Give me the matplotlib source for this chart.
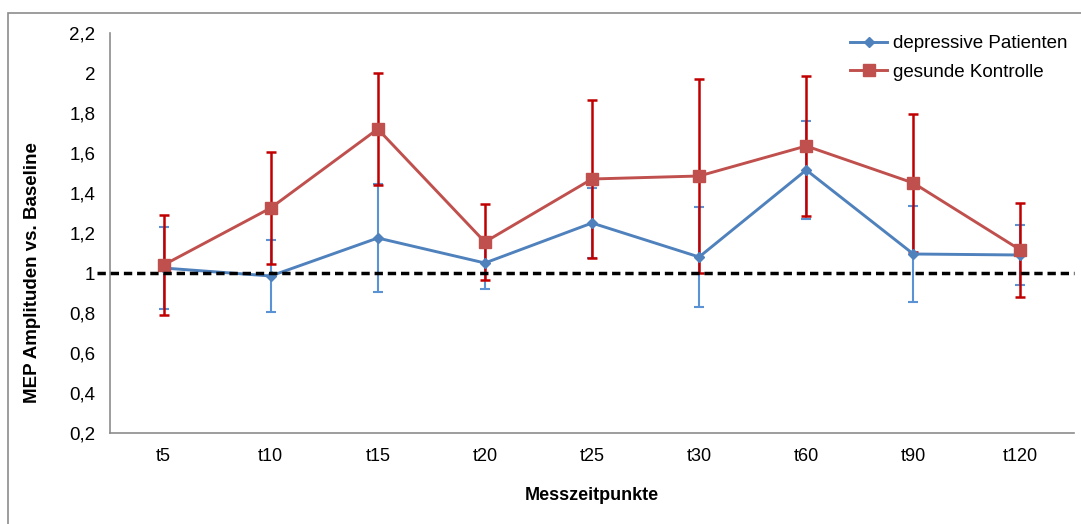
import matplotlib
matplotlib.use("Agg")
import matplotlib.pyplot as plt
from matplotlib.patches import Rectangle

# data
zeitpunkte = ["t5", "t10", "t15", "t20", "t25", "t30", "t60", "t90", "t120"]
depressiv = [1.025, 0.985, 1.175, 1.05, 1.25, 1.08, 1.515, 1.095, 1.09]
depressiv_err = [0.205, 0.18, 0.27, 0.13, 0.175, 0.25, 0.245, 0.24, 0.15]
gesund = [1.04, 1.325, 1.72, 1.155, 1.47, 1.485, 1.635, 1.45, 1.115]
gesund_err = [0.25, 0.28, 0.28, 0.19, 0.395, 0.485, 0.35, 0.345, 0.235]
y_ticks = [0.2, 0.4, 0.6, 0.8, 1.0, 1.2, 1.4, 1.6, 1.8, 2.0, 2.2]

plt.rcParams['font.family'] = ['Liberation Sans', 'DejaVu Sans']

W, H = 1081, 524
fig = plt.figure(figsize=(W / 100, H / 100), dpi=100)
ax = fig.add_axes([110 / W, 1 - 433 / H, (1074 - 110) / W, 400 / H])

x = list(range(len(zeitpunkte)))

# error bars first, lines on top
ax.errorbar(x, depressiv, yerr=depressiv_err, fmt='none', ecolor='#5B92D3',
            elinewidth=1.5, capsize=3.5, capthick=1.5, zorder=2)
ax.errorbar(x, gesund, yerr=gesund_err, fmt='none', ecolor='#C00000',
            elinewidth=1.8, capsize=3.5, capthick=1.8, zorder=2)
ax.plot(x, depressiv, color='#4F81BD', lw=2.1, marker='D', ms=5.5,
        label='depressive Patienten', zorder=3)
ax.plot(x, gesund, color='#C0504D', lw=2.1, marker='s', ms=9,
        label='gesunde Kontrolle', zorder=4)

# baseline
ax.plot([-0.62, 8.5], [1, 1], color='black', lw=2.5, ls=(0, (2.4, 1.4)),
        clip_on=False, zorder=5)

ax.set_xlim(-0.5, 8.5)
ax.set_ylim(0.2, 2.2)
ax.set_yticks(y_ticks)
ax.set_yticklabels([("%g" % v).replace('.', ',') for v in y_ticks], fontsize=13.5)
ax.set_xticks(x)
ax.set_xticklabels(zeitpunkte, fontsize=13)
ax.tick_params(axis='both', length=0)
ax.tick_params(axis='y', pad=10.5)
ax.tick_params(axis='x', pad=11)

for s in ['top', 'right']:
    ax.spines[s].set_visible(False)
for s in ['left', 'bottom']:
    ax.spines[s].set_color('#8C8C8C')
    ax.spines[s].set_linewidth(1.2)

ax.set_ylabel('MEP Amplituden vs. Baseline', fontsize=13.5, fontweight='bold')
ax.yaxis.label.set_va('center')
ax.yaxis.set_label_coords(-0.0799, 0.4)
ax.set_xlabel('Messzeitpunkte', fontsize=13, fontweight='bold')
ax.xaxis.label.set_va('center')
ax.xaxis.set_label_coords(0.5, -0.155)

leg = ax.legend(loc='upper left', bbox_to_anchor=(0.7676, 0.995), frameon=False,
                fontsize=13.5, handlelength=2.0, handletextpad=0.27,
                labelspacing=0.62, borderaxespad=0, borderpad=0)

# outer chart frame (clipped by image edges on right and bottom)
fig.patches.append(Rectangle((8 / W, -0.1), 1.2, 1 - 13 / H + 0.1,
                             transform=fig.transFigure, fill=False,
                             edgecolor='#8C8C8C', lw=1.2))

fig.savefig('out.png', dpi=100)
